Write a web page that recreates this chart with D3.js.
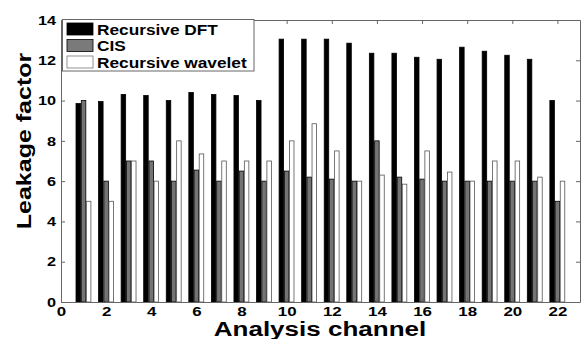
<!DOCTYPE html>
<html>
<head>
<meta charset="utf-8">
<script src="https://cdn.jsdelivr.net/npm/d3@7"></script>
<style>
	body { margin: 0; background: #fff; }
	text { font-family: 'Liberation Sans', Arial, sans-serif; font-weight: bold; }
</style>
</head>
<body>
<script>
// values, channel 1..22
const channels = d3.range(1, 23);
const seriesNames = ['Recursive DFT', 'CIS', 'Recursive wavelet'];
const dft = [9.85, 9.95, 10.3, 10.25, 10, 10.4, 10.3, 10.25, 10, 13.05, 13.05, 13.05, 12.85, 12.35, 12.35, 12.15, 12.05, 12.65, 12.45, 12.25, 12.05, 10];
const cis = [10, 6, 7, 7, 6, 6.55, 6, 6.5, 6, 6.5, 6.2, 6.1, 6, 8, 6.2, 6.1, 6, 6, 6, 6, 6, 5];
const wavelet = [5, 5, 7, 6, 8, 7.35, 7, 7, 7, 8, 8.85, 7.5, 6, 6.3, 5.85, 7.5, 6.45, 6, 7, 7, 6.2, 6];
const xTicks = d3.range(0, 23, 2);
const yTicks = d3.range(0, 15, 2);

const width = 582;
const height = 339;
const plot = { left: 61, right: 580, top: 20, bottom: 302 };

const svg = d3.select('body').append('svg').attr('width', width).attr('height', height);

const x = d3.scaleLinear().domain([0, 23]).range([plot.left, plot.right]);
const y = d3.scaleLinear().domain([0, 14]).range([plot.bottom, plot.top]);

const fills = ['#000', '#747474', '#fff'];
const offsets = [-0.235, 0, 0.225];
const barW = x(0.2) - x(0);

// stretch text horizontally, the source figure is wider than its fonts
const stretch = (sel, k) => {
	sel.each(function () {
		const len = this.getComputedTextLength();
		d3.select(this).attr('textLength', len * k).attr('lengthAdjust', 'spacingAndGlyphs');
	});
};

[dft, cis, wavelet].forEach((values, s) => {
	svg.append('g')
		.selectAll('rect')
		.data(values)
		.enter()
		.append('rect')
		.attr('x', (d, i) => x(channels[i] + offsets[s]) - barW / 2)
		.attr('y', d => y(d))
		.attr('width', barW)
		.attr('height', d => y(0) - y(d))
		.attr('fill', fills[s])
		.attr('stroke', s === 2 ? '#555' : '#000')
		.attr('stroke-width', 0.8);
});

// frame with inward ticks on every side
const styleAxis = (g, labels) => {
	g.select('.domain').attr('stroke', '#666');
	g.selectAll('.tick line').attr('stroke', '#666');
	g.selectAll('.tick text')
		.attr('fill', '#000')
		.style('font-size', '13px')
		.style('font-family', "'Liberation Sans', Arial, sans-serif")
		.style('font-weight', 'bold');
	if (!labels) g.selectAll('.tick text').remove();
};

svg.append('g')
	.attr('transform', `translate(0,${plot.bottom})`)
	.call(d3.axisBottom(x).tickValues(xTicks).tickSizeInner(-4).tickSizeOuter(0).tickPadding(5))
	.call(g => styleAxis(g, true))
	.call(g => stretch(g.selectAll('.tick text'), 1.3));

svg.append('g')
	.attr('transform', `translate(0,${plot.top})`)
	.call(d3.axisTop(x).tickValues(xTicks).tickSizeInner(-4).tickSizeOuter(0))
	.call(g => styleAxis(g, false));

svg.append('g')
	.attr('transform', `translate(${plot.left},0)`)
	.call(d3.axisLeft(y).tickValues(yTicks).tickSizeInner(-4).tickSizeOuter(0).tickPadding(5))
	.call(g => styleAxis(g, true))
	.call(g => stretch(g.selectAll('.tick text'), 1.25));

svg.append('g')
	.attr('transform', `translate(${plot.right},0)`)
	.call(d3.axisRight(y).tickValues(yTicks).tickSizeInner(-4).tickSizeOuter(0))
	.call(g => styleAxis(g, false));

// axis titles
svg.append('text')
	.attr('x', 320)
	.attr('y', 336)
	.attr('text-anchor', 'middle')
	.style('font-size', '20px')
	.text('Analysis channel')
	.call(t => stretch(t, 1.3));

svg.append('text')
	.attr('transform', 'translate(31,141) rotate(-90)')
	.attr('text-anchor', 'middle')
	.style('font-size', '20px')
	.text('Leakage factor')
	.call(t => stretch(t, 1.25));

// legend
const legend = svg.append('g').attr('transform', 'translate(62.5,19.5)');

legend.append('rect')
	.attr('width', 191.5)
	.attr('height', 51.5)
	.attr('fill', '#fff')
	.attr('stroke', '#666');

seriesNames.forEach((name, i) => {
	const row = legend.append('g').attr('transform', `translate(4.5,${3.5 + i * 16.5})`);

	row.append('rect')
		.attr('width', 26)
		.attr('height', 12)
		.attr('fill', i === 1 ? '#7a7a7a' : fills[i])
		.attr('stroke', i === 2 ? '#777' : '#000')
		.attr('stroke-width', 0.8);

	row.append('text')
		.attr('x', 30)
		.attr('y', 11.5)
		.style('font-size', '14.5px')
		.text(name)
		.call(t => stretch(t, 1.19));
});
</script>
</body>
</html>
